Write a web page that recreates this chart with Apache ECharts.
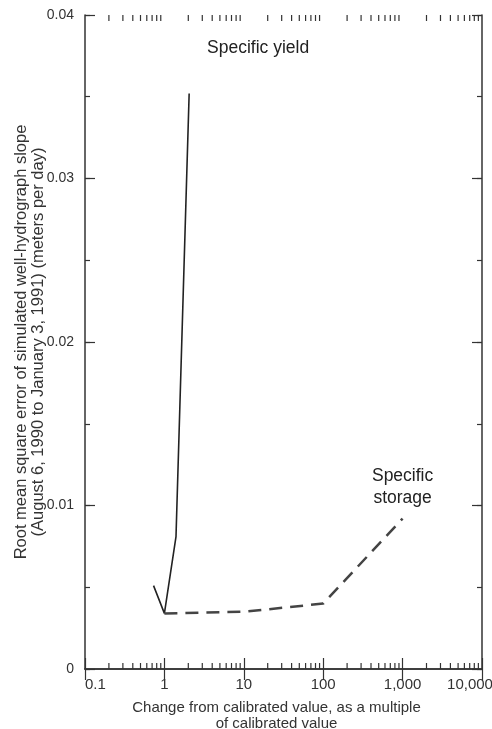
<!DOCTYPE html>
<html><head><meta charset="utf-8">
<script src="https://cdn.jsdelivr.net/npm/echarts@6/dist/echarts.min.js"></script>
<style>html,body{margin:0;padding:0;background:#fff}#c{width:492px;height:729px}</style>
</head><body><div id="c"></div>
<script>
// Data
const yieldX = [0.73, 1, 1.4, 2.05];
const yieldY = [0.0051, 0.0034, 0.0081, 0.0352];
const storageX = [1, 10, 100, 1000];
const storageY = [0.0034, 0.0035, 0.0040, 0.0092];
const xTickLabels = ['0.1', '1', '10', '100', '1,000', '10,000'];
const yTickLabels = ['0', '0.01', '0.02', '0.03', '0.04'];
const xMinorTicks = [0.2,0.3,0.4,0.5,0.6,0.7,0.8,0.9,
  2,3,4,5,6,7,8,9, 20,30,40,50,60,70,80,90,
  200,300,400,500,600,700,800,900, 2000,3000,4000,5000,6000,7000,8000,9000];

const FONT = '"Liberation Sans", Arial, Helvetica, sans-serif';
const INK = '#333';

function mkData(xs, ys, labelText, labelOpt) {
  return xs.map((x, i) => {
    const item = { value: [x, ys[i]] };
    if (i === xs.length - 1) item.label = Object.assign({ show: true, formatter: labelText }, labelOpt);
    return item;
  });
}

const chart = echarts.init(document.getElementById('c'), null, { renderer: 'canvas' });
const baseX = { type: 'log', logBase: 10, min: 0.1, max: 10000, splitLine: { show: false }, gridIndex: 0 };
const baseY = { type: 'value', min: 0, max: 0.04, splitLine: { show: false }, gridIndex: 0 };
const line = { show: true, lineStyle: { color: INK, width: 1.5 } };

chart.setOption({
  animation: false,
  backgroundColor: '#fff',
  grid: { left: 85, right: 10, top: 15, bottom: 60, containLabel: false, outerBoundsMode: 'none' },
  xAxis: [
    Object.assign({}, baseX, {
      position: 'bottom',
      axisLine: line,
      axisTick: { show: true, inside: true, length: 11, lineStyle: { color: INK, width: 1.2 } },
      axisLabel: { show: true, margin: 8, color: INK, fontSize: 15, fontFamily: FONT,
        alignMinLabel: 'left',
        formatter: v => {
          const i = Math.round(Math.log10(v)) + 1;
          return i === xTickLabels.length - 1 ? '{m|' + xTickLabels[i] + '}' : xTickLabels[i];
        },
        rich: { m: { fontSize: 15, fontFamily: FONT, color: INK, padding: [0, 24, 0, 0] } } },
      name: 'Change from calibrated value, as a multiple\nof calibrated value',
      nameLocation: 'middle', nameGap: 31, nameMoveOverlap: false,
      nameTextStyle: { color: INK, fontSize: 15, fontFamily: FONT, lineHeight: 16, padding: [0, 14, 0, 0] }
    }),
    Object.assign({}, baseX, {
      position: 'top',
      axisLine: line,
      axisTick: { show: true, inside: true, length: 11, lineStyle: { color: INK, width: 1.2 } },
      axisLabel: { show: false }
    })
  ],
  yAxis: [
    Object.assign({}, baseY, {
      position: 'left', interval: 0.01,
      axisLine: line,
      axisTick: { show: true, inside: true, length: 10, lineStyle: { color: INK, width: 1.2 } },
      axisLabel: { show: true, margin: 11, color: INK, fontSize: 14, fontFamily: FONT,
        formatter: v => yTickLabels[Math.round(v / 0.01)] },
      name: 'Root mean square error of simulated well-hydrograph slope\n(August 6, 1990 to January 3, 1991) (meters per day)',
      nameLocation: 'middle', nameRotate: 90, nameGap: 38, nameMoveOverlap: false,
      nameTextStyle: { color: INK, fontSize: 16.5, fontFamily: FONT, lineHeight: 17 }
    }),
    Object.assign({}, baseY, {
      position: 'left', interval: 0.005,
      axisLine: { show: false },
      axisTick: { show: true, inside: true, length: 5, lineStyle: { color: INK, width: 1.2 } },
      axisLabel: { show: false }
    }),
    Object.assign({}, baseY, {
      position: 'right', interval: 0.01,
      axisLine: line,
      axisTick: { show: true, inside: true, length: 10, lineStyle: { color: INK, width: 1.2 } },
      axisLabel: { show: false }
    }),
    Object.assign({}, baseY, {
      position: 'right', interval: 0.005,
      axisLine: { show: false },
      axisTick: { show: true, inside: true, length: 5, lineStyle: { color: INK, width: 1.2 } },
      axisLabel: { show: false }
    })
  ],
  series: [
    {
      type: 'custom', xAxisIndex: 0, yAxisIndex: 0, clip: false, silent: true,
      data: xMinorTicks.map(v => [v, 0]),
      renderItem: (params, api) => {
        const v = api.value(0);
        const pb = api.coord([v, 0]);
        const pt = api.coord([v, 0.04]);
        return { type: 'group', children: [
          { type: 'line', shape: { x1: pb[0], y1: pb[1], x2: pb[0], y2: pb[1] - 6 }, style: { stroke: INK, lineWidth: 1.2 } },
          { type: 'line', shape: { x1: pt[0], y1: pt[1], x2: pt[0], y2: pt[1] + 6 }, style: { stroke: INK, lineWidth: 1.2 } }
        ] };
      }
    },
    {
      name: 'Specific yield', type: 'line', xAxisIndex: 0, yAxisIndex: 0,
      showSymbol: true, symbol: 'circle', symbolSize: 0,
      lineStyle: { color: '#222', width: 1.6, type: 'solid' },
      data: mkData(yieldX, yieldY, 'Specific yield',
        { position: 'top', distance: 36, offset: [69, 0], color: '#222', fontSize: 17.5, fontFamily: FONT })
    },
    {
      name: 'Specific storage', type: 'line', xAxisIndex: 0, yAxisIndex: 0,
      showSymbol: true, symbol: 'circle', symbolSize: 0,
      lineStyle: { color: '#444', width: 2.5, type: [13, 8] },
      data: mkData(storageX, storageY, 'Specific\nstorage',
        { position: 'top', distance: 9, offset: [0, 0], color: '#222', fontSize: 17.5, fontFamily: FONT, lineHeight: 22, align: 'center' })
    }
  ]
});
</script>
</body></html>
